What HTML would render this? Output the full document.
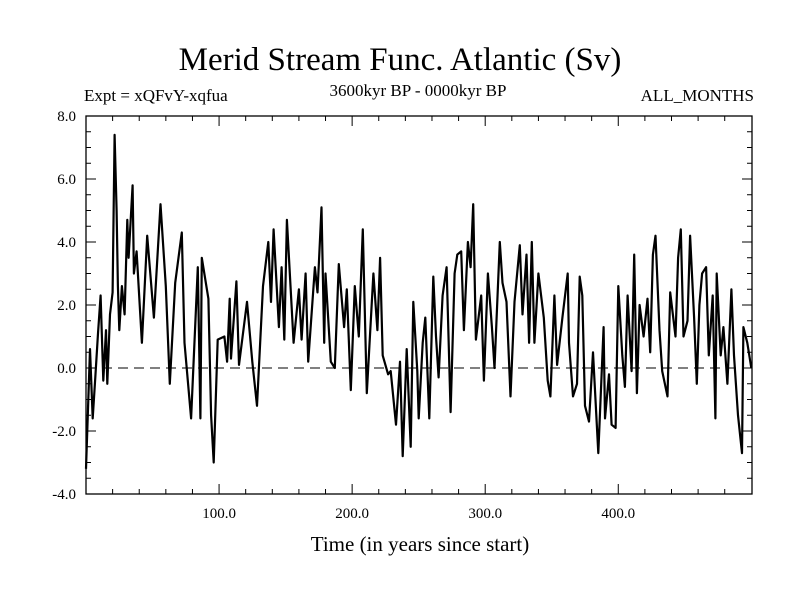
<!DOCTYPE html>
<html><head><meta charset="utf-8"><style>
body{margin:0;background:#fff;}
svg text{font-family:"Liberation Serif",serif;fill:#000;}
</style></head><body>
<svg id="chart" width="800" height="600" xmlns="http://www.w3.org/2000/svg">
<rect width="800" height="600" fill="#fff"/>
<text x="400" y="70" font-size="33" text-anchor="middle">Merid Stream Func. Atlantic (Sv)</text>
<text x="84" y="101" font-size="17">Expt = xQFvY-xqfua</text>
<text x="418" y="96" font-size="17" text-anchor="middle">3600kyr BP - 0000kyr BP</text>
<text x="754" y="101" font-size="17" text-anchor="end">ALL_MONTHS</text>
<text x="420" y="551" font-size="21" text-anchor="middle">Time (in years since start)</text>
<g id="axes"></g>
<g id="series"></g>
</svg>
<script>
const years=[0,3,5,7,9,11,13,15,16,18,20,21.5,23,24,25,27,29,31,32,35,36,38,42,46,51,56,60,63,67,72,74,79,84,86,87,92,94,96,99,104,106,108,109,113,115,121,125,128.5,133,137,139,141,145,147,149,151,156,160,162,165,167,172,174,177,179,180,184,187,190,194,196,199,202,205,208,211,216,219,221,223,227,229,233,236,238,241,244,246,249,250,253,255,258,261,263,265,268,271,274,277,279,282,284,287,289,291,293,297,299,302,305,307,311,313,316,319,322,326,328,331,333,335,337,340,344,347,349,352,354,358,362,363,366,369,371,373,375,378,381,385,389,390,393,395,398,400,403,405,407,410,412,414,416,419,422,424,426,428,431,433,437,439,443,445,447,449,452,454,457,459,461,463,466,468,471,473,474,477,479,482,485,487,490,493,494,497,500];
const values=[-3.2,0.6,-1.6,-0.3,1.1,2.3,-0.4,1.2,-0.5,1.7,2.4,7.4,5.0,2.6,1.2,2.6,1.7,4.7,3.5,5.8,3.0,3.7,0.8,4.2,1.6,5.2,2.6,-0.5,2.7,4.3,0.8,-1.6,3.2,-1.6,3.5,2.2,-1.5,-3.0,0.9,1.0,0.2,2.2,0.3,2.75,0.1,2.1,0.2,-1.2,2.6,4.0,2.1,4.4,1.3,3.2,0.9,4.7,0.8,2.5,0.9,3.0,0.2,3.2,2.4,5.1,0.8,3.0,0.2,0.0,3.3,1.3,2.5,-0.7,2.6,1.0,4.4,-0.8,3.0,1.2,3.5,0.4,-0.2,-0.1,-1.8,0.2,-2.8,0.6,-2.5,2.1,-0.1,-1.6,0.8,1.6,-1.6,2.9,1.0,-0.3,2.3,3.2,-1.4,3.0,3.6,3.7,1.2,4.0,3.2,5.2,0.9,2.3,-0.4,3.0,1.3,0.0,4.0,2.7,2.1,-0.9,2.1,3.9,1.7,3.6,0.8,4.0,0.8,3.0,1.6,-0.4,-0.9,2.3,0.1,1.6,3.0,0.8,-0.9,-0.5,2.9,2.3,-1.2,-1.7,0.5,-2.7,1.3,-1.6,-0.2,-1.8,-1.9,2.6,0.4,-0.6,2.3,-0.1,3.6,-0.8,2.0,1.0,2.2,0.5,3.6,4.2,1.2,-0.1,-0.9,2.4,1.0,3.5,4.4,1.0,1.5,4.2,1.6,-0.5,2.0,3.0,3.2,0.4,2.3,-1.6,3.0,0.4,1.3,-0.5,2.5,0.4,-1.5,-2.7,1.3,0.8,0.0];
const xTicks=[100,200,300,400];
const xTickLabels=["100.0","200.0","300.0","400.0"];
const yTicks=[-4,-2,0,2,4,6,8];
const yTickLabels=["-4.0","-2.0","0.0","2.0","4.0","6.0","8.0"];
const L=86,R=752,T=116,B=494,xMin=0,xMax=500.5,yMin=-4,yMax=8;
const xs=v=>L+(v-xMin)/(xMax-xMin)*(R-L);
const ys=v=>B-(v-yMin)/(yMax-yMin)*(B-T);
const NS="http://www.w3.org/2000/svg";
const axes=document.getElementById('axes');
const ser=document.getElementById('series');
function mk(tag,attrs,parent){const e=document.createElementNS(NS,tag);for(const k in attrs)e.setAttribute(k,attrs[k]);parent.appendChild(e);return e;}
// zero line
const z=mk('line',{x1:L,x2:R,y1:ys(0),y2:ys(0),stroke:'#000','stroke-width':1,'stroke-dasharray':'10,6'},axes);


// frame
const fr=mk('rect',{x:L,y:T,width:R-L,height:B-T,fill:'none',stroke:'#000','stroke-width':1.3},axes);


// minor x ticks
for(let v=20;v<500;v+=20){const major=v%100===0;const len=major?10:5;
 const t1=mk('line',{x1:xs(v),x2:xs(v),y1:B,y2:B-len,stroke:'#000'},axes);
 
 
 const t2=mk('line',{x1:xs(v),x2:xs(v),y1:T,y2:T+len,stroke:'#000'},axes);
 
 }
for(let v=-3.5;v<8;v+=0.5){const major=Math.abs(v%2)<1e-9;const len=major?10:5;
 const t1=mk('line',{x1:L,x2:L+len,y1:ys(v),y2:ys(v),stroke:'#000'},axes);
 
 
 const t2=mk('line',{x1:R,x2:R-len,y1:ys(v),y2:ys(v),stroke:'#000'},axes);
 
 }
xTicks.forEach((v,i)=>{const t=mk('text',{x:xs(v),y:B+24,'font-size':15,'text-anchor':'middle'},axes);t.textContent=xTickLabels[i];
 
 });
yTicks.forEach((v,i)=>{const t=mk('text',{x:L-10,y:ys(v)+5,'font-size':15,'text-anchor':'end'},axes);t.textContent=yTickLabels[i];
 
 });
const d=years.map((y,i)=>(i?'L':'M')+xs(y).toFixed(1)+','+ys(values[i]).toFixed(1)).join(' ');
const p=mk('path',{d:d,fill:'none',stroke:'#000','stroke-width':2.2,'stroke-linejoin':'round'},ser);


</script>
</body></html>
